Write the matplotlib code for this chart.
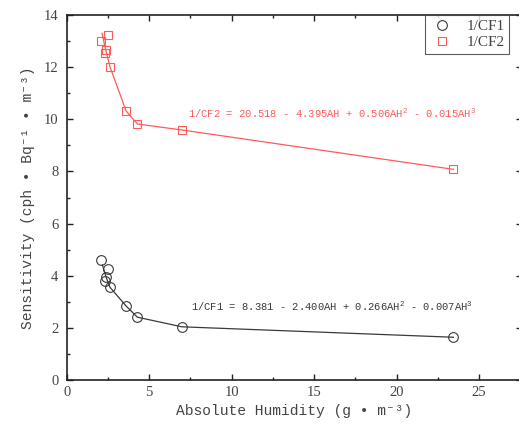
import matplotlib.pyplot as plt
from matplotlib.ticker import MultipleLocator

# absolute humidity (g/m3) and sensitivities
ah = [2.08, 2.52, 2.38, 2.32, 2.62, 3.60, 4.28, 6.98, 23.44]
cf1 = [4.60, 4.26, 3.96, 3.81, 3.56, 2.84, 2.41, 2.04, 1.64]
cf2 = [13.00, 13.23, 12.66, 12.55, 12.02, 10.32, 9.82, 9.59, 8.08]

# fitted curves as drawn
fit_x = [2.16, 2.38, 2.62, 3.60, 4.28, 6.98, 23.44]
fit1_y = [4.42, 3.96, 3.56, 2.84, 2.41, 2.04, 1.64]
fit2_x = [2.14, 2.36, 2.62, 3.60, 4.28, 6.98, 23.44]
fit2_y = [13.30, 12.68, 12.02, 10.32, 9.82, 9.59, 8.08]

eq1 = "1/CF1 = 8.381 - 2.400AH + 0.266AH$^2$ - 0.007AH$^3$"
eq2 = "1/CF2 = 20.518 - 4.395AH + 0.506AH$^2$ - 0.015AH$^3$"

plt.rcParams['mathtext.fontset'] = 'custom'
plt.rcParams['mathtext.rm'] = 'Liberation Mono'
plt.rcParams['mathtext.it'] = 'Liberation Mono'
plt.rcParams['mathtext.bf'] = 'Liberation Mono'

red = '#ff5a5a'
dark = '#3a3a3a'
mono = ['Liberation Mono', 'DejaVu Sans Mono']
serif = ['Liberation Serif', 'DejaVu Serif']

fig = plt.figure(figsize=(5.19, 4.33), dpi=100)
ax = fig.add_axes([66.7/519, 1 - 380/433, (522 - 66.7)/519, (380 - 15)/433])

ax.plot(fit_x, fit1_y, '-', color=dark, lw=0.9)
ax.plot(fit2_x, fit2_y, '-', color=red, lw=0.9)
ax.plot(ah, cf1, 'o', mfc='none', mec=dark, ms=7, mew=0.8, label='1/CF1')
ax.plot(ah, cf2, 's', mfc='none', mec=red, ms=6.3, mew=0.8, label='1/CF2')

ax.text(7.34, 10.24, eq2, color=red, fontsize=7.6, family=mono, va='center')
ax.text(7.52, 2.84, eq1, color=dark, fontsize=7.6, family=mono, va='center')

ax.set_xlim(0, 27.6)
ax.set_ylim(0, 14)
ax.xaxis.set_major_locator(MultipleLocator(5))
ax.xaxis.set_minor_locator(MultipleLocator(2.5))
ax.yaxis.set_major_locator(MultipleLocator(2))
ax.yaxis.set_minor_locator(MultipleLocator(1))
ax.tick_params(which='both', direction='in', top=True, right=True, width=1, color='#222222')
ax.tick_params(which='major', length=4.5)
ax.tick_params(which='minor', length=2.5)
ax.tick_params(axis='y', pad=6)
ax.tick_params(axis='x', pad=4)
for lab in ax.get_xticklabels() + ax.get_yticklabels():
    lab.set_family(serif)
    lab.set_fontsize(10.5)
    lab.set_color('#444444')
for s in ax.spines.values():
    s.set_linewidth(1.2)
    s.set_color('#222222')

ax.set_xlabel('Absolute Humidity (g • m⁻³)', family=mono, fontsize=10.5, color='#444444', labelpad=4)
ax.set_ylabel('Sensitivity (cph • Bq⁻¹ • m⁻³)', family=mono, fontsize=10.5, color='#444444', labelpad=6)

leg = ax.legend(loc='upper left', bbox_to_anchor=(0.788, 1.0), borderaxespad=0,
                frameon=True, fancybox=False, edgecolor='#333333',
                prop={'family': serif, 'size': 11},
                handletextpad=0.9, borderpad=0.3, labelspacing=0.15, handlelength=1.5)
leg.get_frame().set_linewidth(0.8)
for t in leg.get_texts():
    t.set_color('#444444')

fig.savefig('out.png', dpi=100)
